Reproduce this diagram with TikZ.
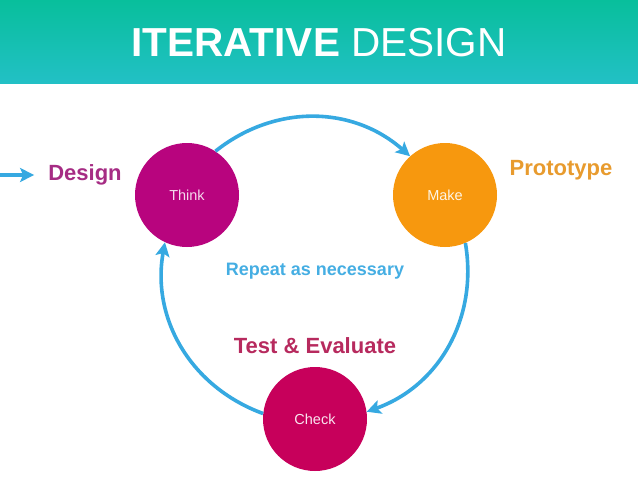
\documentclass[tikz,border=0pt]{standalone}
\usepackage{fontspec}
\setmainfont{Liberation Sans}
\usetikzlibrary{arrows.meta,positioning}
\definecolor{bandtop}{HTML}{08BF9C}
\definecolor{bandbot}{HTML}{22C0C5}
\definecolor{flowblue}{HTML}{36A9E1}
\definecolor{thinkfill}{HTML}{B8047E}
\definecolor{makefill}{HTML}{F7980E}
\definecolor{checkfill}{HTML}{C7005B}
\definecolor{designtext}{HTML}{A62C84}
\definecolor{prototext}{HTML}{E89B2E}
\definecolor{testtext}{HTML}{B72A5E}
\definecolor{repeattext}{HTML}{45AEE3}
\tikzset{
  stagenode/.style={circle,minimum size=104pt,inner sep=0pt,font=\fontsize{14.5}{14.5}\selectfont},
  phaselabel/.style={inner sep=0pt,font=\fontsize{22}{22}\selectfont\bfseries},
  flow/.style={-{Stealth[length=14pt,width=14pt,inset=3pt]},line width=3.6pt,flowblue},
}

\begin{document}
\begin{tikzpicture}[x=1pt,y=-1pt]
\useasboundingbox[fill=white] (0,0) rectangle (638,479);
% header band
\shade[top color=bandtop,bottom color=bandbot] (0,0) rectangle (638,83);
\node[text=white,font=\fontsize{40.5}{40.5}\selectfont] (title) at (319,43) {\textbf{ITERATIVE} DESIGN};

% the three stages
\node[stagenode,fill=thinkfill,text=thinkfill!15] (think) at (187,195) {Think};
\node[stagenode,fill=makefill,text=makefill!10] (make) at (445,195) {Make};
\node[stagenode,fill=checkfill,text=checkfill!10] (check) at (315,419) {Check};

% labels
\node[phaselabel,text=designtext] (design) at (85,175) {Design};
\node[phaselabel,text=prototext] (proto) at (561,170) {Prototype};
\node[phaselabel,text=testtext] (test) at (315,346) {Test \& Evaluate};
\node[inner sep=0pt,text=repeattext,font=\fontsize{18}{18}\selectfont\bfseries] (repeat) at (315,271) {Repeat as necessary};

% cycle
\coordinate (entry) at (0,175);
\draw[flow,shorten >=14pt] (entry) -- (design.west |- entry);
\draw[flow] (think.57) to[bend left=40] (make.132);
\draw[flow] (make.-67) to[bend left=40] (check.8);
\draw[flow] (check.174) to[bend left=40] (think.-115);
\end{tikzpicture}
\end{document}
